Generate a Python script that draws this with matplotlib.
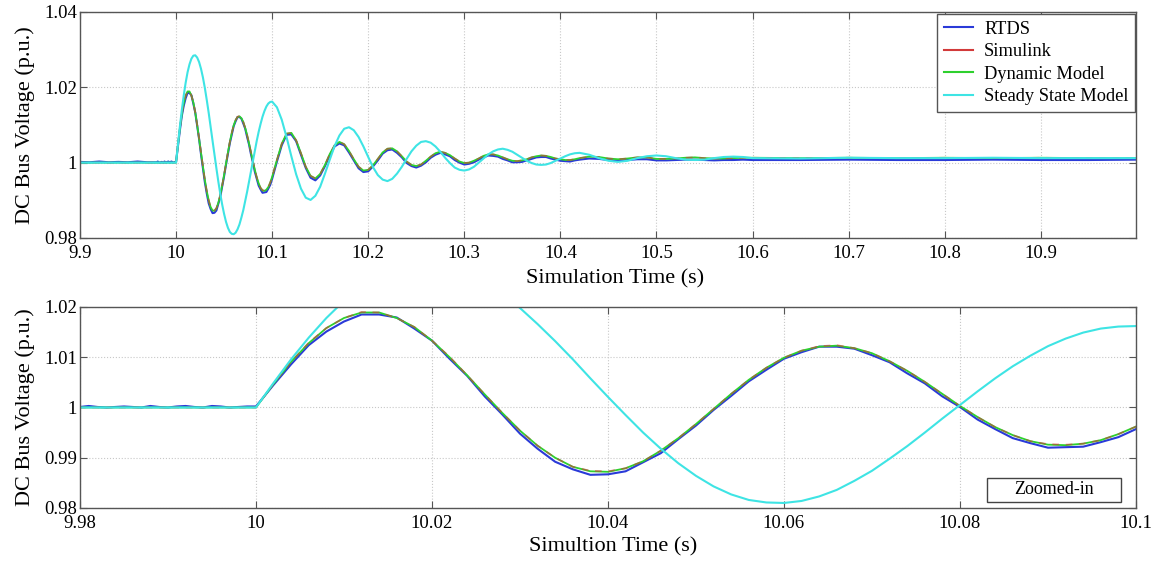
# DC bus voltage response: RTDS vs Simulink vs dynamic / steady state models
import numpy as np
import matplotlib.pyplot as plt
from matplotlib.patches import Rectangle
from matplotlib.lines import Line2D

plt.rcParams["font.family"] = "serif"
plt.rcParams["font.serif"] = ["Liberation Serif", "DejaVu Serif"]

# sample times (s): coarse before the step, fine around it, coarse again later
t = np.concatenate([
    np.arange(9.90, 9.975, 0.01),
    np.arange(9.980, 9.9995, 0.001),
    np.arange(10.0, 10.1005, 0.002),
    np.arange(10.105, 10.4155, 0.005),
    np.arange(10.42, 10.6005, 0.01),
    np.arange(10.65, 11.0005, 0.05),
]).round(4)

rtds = [
    1.0002, 1.0001, 1.0003, 1.0001, 1.0002, 1.0001, 1.0003, 1.0001,
    1.0001, 1.0003, 1.0001, 1.0000, 1.0001, 1.0002, 1.0001, 1.0000, 1.0003, 1.0001,
    1.0000, 1.0002, 1.0003, 1.0001, 1.0000, 1.0003, 1.0002, 1.0000, 1.0001, 1.0002,
    # 10.000 - 10.100
    1.0002, 1.0045, 1.0086, 1.0124, 1.0151, 1.0171, 1.0185, 1.0185, 1.0179, 1.0157,
    1.0133, 1.0097, 1.0063, 1.0022, 0.9986, 0.9948, 0.9918, 0.9892, 0.9877, 0.9866,
    0.9867, 0.9873, 0.9891, 0.9909, 0.9937, 0.9964, 0.9995, 1.0023, 1.0052, 1.0075,
    1.0097, 1.0110, 1.0121, 1.0121, 1.0117, 1.0104, 1.0090, 1.0068, 1.0048, 1.0022,
    1.0001, 0.9976, 0.9957, 0.9939, 0.9929, 0.9920, 0.9921, 0.9922, 0.9931, 0.9941,
    0.9957,
    # 10.105 - 10.415
    1.0003, 1.0046, 1.0074, 1.0075, 1.0057, 1.0021, 0.9986, 0.9960, 0.9953, 0.9966,
    0.9991, 1.0019, 1.0043, 1.0051, 1.0046, 1.0027, 1.0006, 0.9985, 0.9975, 0.9977,
    0.9990, 1.0006, 1.0024, 1.0033, 1.0035, 1.0026, 1.0014, 0.9999, 0.9991, 0.9987,
    0.9992, 1.0001, 1.0013, 1.0021, 1.0026, 1.0022, 1.0017, 1.0007, 1.0000, 0.9995,
    0.9997, 1.0001, 1.0008, 1.0014, 1.0019, 1.0018, 1.0016, 1.0010, 1.0006, 1.0001,
    1.0001, 1.0002, 1.0006, 1.0010, 1.0014, 1.0015, 1.0015, 1.0011, 1.0008, 1.0005,
    1.0004, 1.0003, 1.0006,
    # 10.42 - 10.60
    1.0008, 1.0011, 1.0010, 1.0007, 1.0005, 1.0007, 1.0009, 1.0009, 1.0006, 1.0006,
    1.0007, 1.0008, 1.0008, 1.0007, 1.0006, 1.0007, 1.0007, 1.0008, 1.0007,
    # 10.65 - 11.00
    1.0007, 1.0008, 1.0007, 1.0007, 1.0008, 1.0007, 1.0007, 1.0008,
]

simulink = [1.0] * 28 + [
    1.0000, 1.0047, 1.0091, 1.0129, 1.0158, 1.0178, 1.0190, 1.0189, 1.0178, 1.0160,
    1.0133, 1.0101, 1.0064, 1.0026, 0.9989, 0.9954, 0.9924, 0.9900, 0.9882, 0.9874,
    0.9873, 0.9879, 0.9893, 0.9914, 0.9939, 0.9967, 0.9997, 1.0027, 1.0055, 1.0079,
    1.0099, 1.0113, 1.0122, 1.0124, 1.0118, 1.0108, 1.0092, 1.0073, 1.0051, 1.0027,
    1.0003, 0.9981, 0.9961, 0.9945, 0.9933, 0.9927, 0.9926, 0.9928, 0.9935, 0.9947,
    0.9962,
    1.0007, 1.0050, 1.0077, 1.0079, 1.0059, 1.0025, 0.9989, 0.9965, 0.9958, 0.9970,
    0.9994, 1.0023, 1.0046, 1.0055, 1.0049, 1.0031, 1.0009, 0.9989, 0.9979, 0.9981,
    0.9993, 1.0010, 1.0027, 1.0037, 1.0038, 1.0030, 1.0017, 1.0003, 0.9994, 0.9991,
    0.9995, 1.0005, 1.0016, 1.0025, 1.0029, 1.0026, 1.0020, 1.0011, 1.0003, 0.9999,
    1.0000, 1.0005, 1.0011, 1.0018, 1.0022, 1.0022, 1.0019, 1.0014, 1.0009, 1.0005,
    1.0004, 1.0006, 1.0009, 1.0014, 1.0017, 1.0019, 1.0018, 1.0015, 1.0011, 1.0009,
    1.0007, 1.0007, 1.0009,
    1.0012, 1.0016, 1.0015, 1.0011, 1.0009, 1.0011, 1.0014, 1.0014, 1.0010, 1.0010,
    1.0011, 1.0013, 1.0014, 1.0012, 1.0011, 1.0011, 1.0012, 1.0013, 1.0013,
    1.0012, 1.0013, 1.0012, 1.0013, 1.0012, 1.0013, 1.0012, 1.0012,
]

dynamic = [1.0] * 28 + [
    1.0000, 1.0047, 1.0091, 1.0128, 1.0158, 1.0178, 1.0189, 1.0189, 1.0178, 1.0160,
    1.0133, 1.0100, 1.0064, 1.0026, 0.9989, 0.9954, 0.9924, 0.9900, 0.9882, 0.9873,
    0.9872, 0.9879, 0.9893, 0.9914, 0.9939, 0.9967, 0.9997, 1.0027, 1.0055, 1.0079,
    1.0099, 1.0113, 1.0121, 1.0123, 1.0118, 1.0108, 1.0092, 1.0073, 1.0051, 1.0027,
    1.0003, 0.9981, 0.9961, 0.9945, 0.9933, 0.9926, 0.9925, 0.9928, 0.9935, 0.9947,
    0.9962,
    1.0007, 1.0050, 1.0077, 1.0079, 1.0059, 1.0025, 0.9989, 0.9965, 0.9958, 0.9970,
    0.9994, 1.0023, 1.0046, 1.0055, 1.0049, 1.0031, 1.0009, 0.9989, 0.9979, 0.9981,
    0.9993, 1.0010, 1.0027, 1.0037, 1.0038, 1.0030, 1.0017, 1.0003, 0.9994, 0.9991,
    0.9995, 1.0005, 1.0016, 1.0025, 1.0029, 1.0026, 1.0020, 1.0011, 1.0003, 0.9999,
    1.0000, 1.0005, 1.0011, 1.0018, 1.0022, 1.0022, 1.0019, 1.0014, 1.0009, 1.0005,
    1.0004, 1.0006, 1.0009, 1.0014, 1.0017, 1.0019, 1.0018, 1.0015, 1.0011, 1.0009,
    1.0007, 1.0007, 1.0009,
    1.0012, 1.0016, 1.0015, 1.0011, 1.0009, 1.0011, 1.0014, 1.0014, 1.0010, 1.0010,
    1.0011, 1.0013, 1.0014, 1.0012, 1.0011, 1.0011, 1.0012, 1.0013, 1.0013,
    1.0012, 1.0013, 1.0012, 1.0013, 1.0012, 1.0013, 1.0012, 1.0012,
]

steady = [1.0] * 28 + [
    1.0000, 1.0049, 1.0096, 1.0139, 1.0178, 1.0212, 1.0240, 1.0261, 1.0276, 1.0284,
    1.0285, 1.0279, 1.0267, 1.0249, 1.0226, 1.0198, 1.0166, 1.0132, 1.0096, 1.0058,
    1.0021, 0.9985, 0.9950, 0.9918, 0.9889, 0.9864, 0.9843, 0.9827, 0.9816, 0.9811,
    0.9810, 0.9814, 0.9823, 0.9836, 0.9854, 0.9874, 0.9898, 0.9923, 0.9950, 0.9978,
    1.0005, 1.0032, 1.0058, 1.0082, 1.0103, 1.0122, 1.0137, 1.0149, 1.0157, 1.0161,
    1.0162,
    1.0147, 1.0114, 1.0068, 1.0017, 0.9969, 0.9931, 0.9907, 0.9901, 0.9912, 0.9936,
    0.9971, 1.0008, 1.0044, 1.0072, 1.0090, 1.0094, 1.0086, 1.0068, 1.0043, 1.0015,
    0.9988, 0.9967, 0.9955, 0.9951, 0.9957, 0.9971, 0.9989, 1.0010, 1.0030, 1.0045,
    1.0055, 1.0057, 1.0053, 1.0043, 1.0029, 1.0013, 0.9999, 0.9987, 0.9981, 0.9979,
    0.9982, 0.9989, 1.0000, 1.0011, 1.0022, 1.0030, 1.0035, 1.0037, 1.0034, 1.0029,
    1.0021, 1.0013, 1.0005, 0.9999, 0.9995, 0.9994, 0.9995, 0.9999, 1.0005, 1.0011,
    1.0017, 1.0022, 1.0025,
    1.0026, 1.0021, 1.0012, 1.0005, 1.0002, 1.0005, 1.0012, 1.0017, 1.0019, 1.0017,
    1.0012, 1.0008, 1.0007, 1.0008, 1.0012, 1.0015, 1.0016, 1.0015, 1.0012,
    1.0011, 1.0013, 1.0012, 1.0012, 1.0013, 1.0012, 1.0012, 1.0012,
]

labels = ["RTDS", "Simulink", "Dynamic Model", "Steady State Model"]

top_xticks = [9.9, 10.0, 10.1, 10.2, 10.3, 10.4, 10.5, 10.6, 10.7, 10.8, 10.9]
top_xlabels = ["9.9", "10", "10.1", "10.2", "10.3", "10.4", "10.5", "10.6", "10.7", "10.8", "10.9"]
top_yticks = [0.98, 1.0, 1.02, 1.04]
top_ylabels = ["0.98", "1", "1.02", "1.04"]
bot_xticks = [9.98, 10.0, 10.02, 10.04, 10.06, 10.08, 10.1]
bot_xlabels = ["9.98", "10", "10.02", "10.04", "10.06", "10.08", "10.1"]
bot_yticks = [0.98, 0.99, 1.0, 1.01, 1.02]
bot_ylabels = ["0.98", "0.99", "1", "1.01", "1.02"]

c_rtds = "#2a3ad8"
c_sim = "#d23a3a"
c_dyn = "#2ed02e"
c_ss = "#3ee4e4"

fig = plt.figure(figsize=(11.62, 5.65), dpi=100)
ax1 = fig.add_axes([0.0688, 0.5788, 0.9088, 0.4])
ax2 = fig.add_axes([0.0688, 0.1009, 0.9088, 0.3558])


def draw(ax):
    ax.plot(t, rtds, color=c_rtds, lw=1.5)
    ax.plot(t, dynamic, color=c_dyn, lw=1.3)
    ax.plot(t, simulink, color=c_sim, lw=1.2, ls=(0, (4, 4)), alpha=0.6)
    ax.plot(t, steady, color=c_ss, lw=1.5)
    ax.grid(True, ls=":", color="#c8c8c8", lw=0.8)
    ax.tick_params(direction="in", top=True, right=True, labelsize=13.5,
                   color="#555555", length=5)
    ax.tick_params(axis="x", pad=5)
    ax.tick_params(axis="y", pad=2)
    for s in ax.spines.values():
        s.set_color("#555555")
        s.set_linewidth(1.0)


draw(ax1)
ax1.set_xlim(9.9, 10.999)
ax1.set_ylim(0.98, 1.04)
ax1.set_xticks(top_xticks)
ax1.set_xticklabels(top_xlabels)
ax1.set_yticks(top_yticks)
ax1.set_yticklabels(top_ylabels)
ax1.set_xlabel("Simulation Time (s)", fontsize=16)
ax1.set_ylabel("DC Bus Voltage (p.u.)", fontsize=16)
ax1.xaxis.set_label_coords(0.507, -0.14)
ax1.yaxis.set_label_coords(-0.043, 0.5)

handles = [Line2D([], [], color=c, lw=1.5) for c in (c_rtds, c_sim, c_dyn, c_ss)]
leg = ax1.legend(handles, labels, loc="upper right", bbox_to_anchor=(0.999, 0.99),
                 borderaxespad=0, fontsize=13.2, fancybox=False, framealpha=1,
                 edgecolor="#555555", handlelength=1.6, labelspacing=0.3,
                 borderpad=0.35, handletextpad=0.6)
leg.get_frame().set_linewidth(1.0)

draw(ax2)
ax2.set_xlim(9.98, 10.1)
ax2.set_ylim(0.98, 1.02)
ax2.set_xticks(bot_xticks)
ax2.set_xticklabels(bot_xlabels)
ax2.set_yticks(bot_yticks)
ax2.set_yticklabels(bot_ylabels)
ax2.set_xlabel("Simultion Time (s)", fontsize=16)
ax2.set_ylabel("DC Bus Voltage (p.u.)", fontsize=16)
ax2.xaxis.set_label_coords(0.505, -0.145)
ax2.yaxis.set_label_coords(-0.043, 0.5)

# "Zoomed-in" tag box
ax2.add_patch(Rectangle((0.859, 0.03), 0.127, 0.12, transform=ax2.transAxes,
                        facecolor="white", edgecolor="#444444", lw=1.0, zorder=5))
ax2.text(0.9225, 0.09, "Zoomed-in", transform=ax2.transAxes, ha="center",
         va="center", fontsize=13, zorder=6)

fig.savefig("out.png", dpi=100)
